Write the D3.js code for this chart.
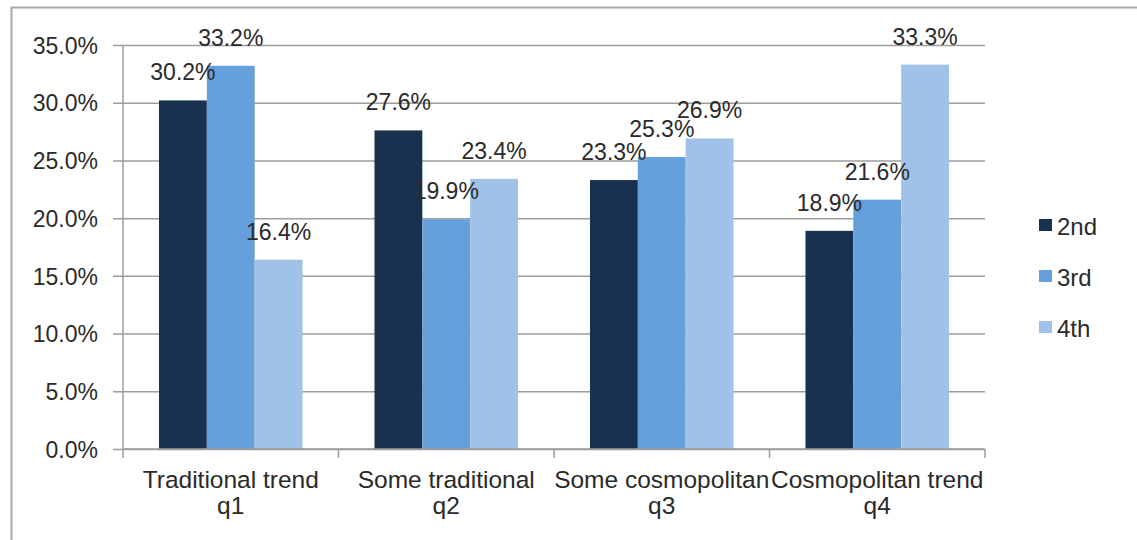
<!DOCTYPE html>
<html>
<head>
<meta charset="utf-8">
<script src="https://cdn.jsdelivr.net/npm/d3@7"></script>
<style>
  html, body { margin: 0; padding: 0; background: #fff; }
  svg { display: block; font-family: "Liberation Sans", Arial, sans-serif; }
</style>
</head>
<body>
<svg id="chart" width="1137" height="540"></svg>
<script>
// Category names (first line) and quartile tags (second line)
const categories = ["Traditional trend", "Some traditional", "Some cosmopolitan", "Cosmopolitan trend"];
const quartiles = ["q1", "q2", "q3", "q4"];
const series = ["2nd", "3rd", "4th"];
const colors = ["#17314f", "#65a0dc", "#a0c2e8"];

// Percent values per series, one entry per category
const values2nd = [30.2, 27.6, 23.3, 18.9];
const values3rd = [33.2, 19.9, 25.3, 21.6];
const values4th = [16.4, 23.4, 26.9, 33.3];
const seriesValues = [values2nd, values3rd, values4th];

const yTicks = [0, 5, 10, 15, 20, 25, 30, 35];

const svg = d3.select("#chart");

// Outer frame
svg.append("rect")
  .attr("x", 11.5).attr("y", 7.5)
  .attr("width", 1200).attr("height", 600)
  .attr("fill", "none").attr("stroke", "#a8a8a8").attr("stroke-width", 2);

const plotLeft = 123, plotRight = 985, plotTop = 45, plotBottom = 449;

const y = d3.scaleLinear().domain([0, 35]).range([plotBottom, plotTop]);
const x0 = d3.scaleBand().domain(categories).range([plotLeft, plotRight]).padding(0);
const inner = x0.bandwidth();
const x1 = d3.scaleBand().domain(series).range([inner * 0.167, inner * 0.833]).padding(0);

// Horizontal gridlines with outside ticks
const yAxis = d3.axisLeft(y)
  .tickValues(yTicks)
  .tickSize(-(plotRight - plotLeft))
  .tickSizeOuter(0)
  .tickPadding(25)
  .tickFormat(d => d.toFixed(1) + "%");

const gy = svg.append("g").attr("transform", `translate(${plotLeft},0)`).call(yAxis);
gy.select(".domain").remove();
gy.selectAll(".tick line")
  .attr("x1", -10)
  .attr("stroke", "#9d9d9d").attr("stroke-width", 1.5);
gy.selectAll(".tick text")
  .attr("fill", "#2a2a2a").attr("font-size", 23).attr("dy", "0.36em");

// Bars
const groups = svg.append("g").selectAll("g")
  .data(categories)
  .join("g")
  .attr("transform", d => `translate(${x0(d)},0)`);

groups.selectAll("rect")
  .data((c, i) => series.map((s, k) => ({ s, k, v: seriesValues[k][i] })))
  .join("rect")
  .attr("x", d => x1(d.s))
  .attr("y", d => y(d.v))
  .attr("width", x1.bandwidth())
  .attr("height", d => y(0) - y(d.v))
  .attr("fill", d => colors[d.k]);

// Vertical axis line
svg.append("line")
  .attr("x1", plotLeft).attr("x2", plotLeft)
  .attr("y1", plotTop).attr("y2", plotBottom)
  .attr("stroke", "#9d9d9d").attr("stroke-width", 1.5);

// Category axis with ticks at band boundaries
const xAxisLine = svg.append("g");
xAxisLine.append("line")
  .attr("x1", plotLeft).attr("x2", plotRight)
  .attr("y1", plotBottom).attr("y2", plotBottom)
  .attr("stroke", "#9d9d9d").attr("stroke-width", 1.5);
const bounds = categories.map(c => x0(c)).concat([x0(categories[categories.length - 1]) + inner]);
xAxisLine.selectAll(".xt")
  .data(bounds)
  .join("line")
  .attr("class", "xt")
  .attr("x1", d => d).attr("x2", d => d)
  .attr("y1", plotBottom).attr("y2", plotBottom + 9)
  .attr("stroke", "#9d9d9d").attr("stroke-width", 1.5);

const catLabels = svg.append("g").selectAll("text")
  .data(categories)
  .join("text")
  .attr("text-anchor", "middle")
  .attr("fill", "#2a2a2a")
  .attr("font-size", 24.5);
catLabels.append("tspan")
  .attr("x", d => x0(d) + inner / 2)
  .attr("y", 488)
  .text(d => d);
catLabels.append("tspan")
  .attr("x", d => x0(d) + inner / 2)
  .attr("y", 514)
  .text((d, i) => quartiles[i]);

// Value labels above each bar
groups.selectAll("text.val")
  .data((c, i) => series.map((s, k) => ({ s, k, v: seriesValues[k][i] })))
  .join("text")
  .attr("class", "val")
  .attr("x", d => x1(d.s) + x1.bandwidth() / 2)
  .attr("y", d => y(d.v) - 20)
  .attr("text-anchor", "middle")
  .attr("fill", "#2a2a2a")
  .attr("font-size", 23)
  .text(d => d.v.toFixed(1) + "%");

// Legend
const legend = svg.append("g").selectAll("g")
  .data(series)
  .join("g")
  .attr("transform", (d, i) => `translate(1039,${219 + i * 51})`);
legend.append("rect")
  .attr("width", 13).attr("height", 12)
  .attr("fill", (d, i) => colors[i]);
legend.append("text")
  .attr("x", 18).attr("y", 16)
  .attr("fill", "#2a2a2a")
  .attr("font-size", 24)
  .text(d => d);
</script>
</body>
</html>
